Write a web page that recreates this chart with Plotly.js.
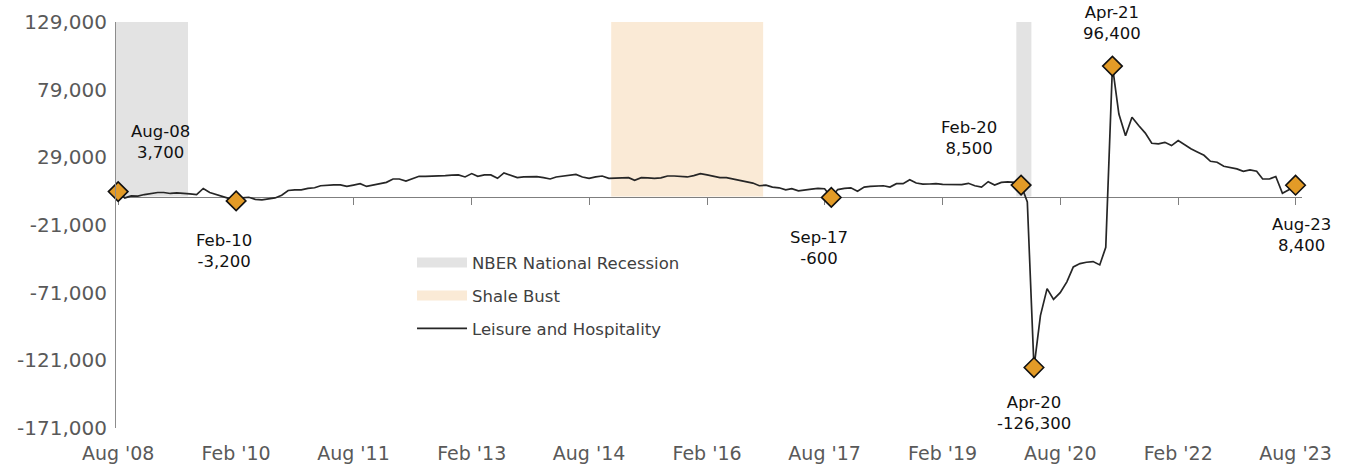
<!DOCTYPE html>
<html><head><meta charset="utf-8">
<script src="https://cdn.plot.ly/plotly-3.0.1.min.js"></script>
<style>html,body{margin:0;padding:0;background:#fff}#chart{width:1353px;height:465px}</style>
</head><body><div id="chart"></div>
<script>
// ---- data ----
const firstMonth = [2008, 8]; // Aug 2008, monthly series
const leisureHospitality = [
  3700, -1000, 500, 300, 1500, 2500, 3000, 3000, 2300, 2800, 2600, 2000,
  1500, 6000, 3000, 1500, 500, -1500, -3200, -1000, -500, -2000, -2500, -2000,
  -1000, 1000, 4500, 5000, 5000, 6000, 6500, 8000, 8500, 8700, 8700, 7500,
  8500, 9500, 7500, 8500, 9000, 10500, 13000, 13000, 11500, 13000, 15000, 15000,
  15000, 15300, 15500, 15800, 16000, 14500, 17000, 15000, 16000, 16000, 13500, 17500,
  16000, 14000, 14500, 14500, 14800, 14000, 13000, 14500, 15200, 16000, 16400, 14500,
  13400, 14500, 15200, 13500, 13500, 13600, 14000, 12000, 14000, 13800, 13500, 13800,
  15200, 15200, 15000, 14500, 15500, 16900, 16000, 14800, 14000, 14000, 13000, 12000,
  11500, 10000, 8000, 8500, 7000, 6500, 5000, 5800, 4200, 5000, 5500, 6000,
  5800, -600, 5200, 6000, 6500, 4000, 7000, 7500, 8000, 8000, 7000, 9500,
  9500, 12500, 10000, 9200, 9300, 9500, 9000, 8800, 8800, 8800, 9800, 8000,
  7000, 11000, 8500, 10500, 10800, 10500, 8500, -4000, -126300, -88000, -68000, -76000,
  -71000, -63000, -52000, -49500, -48500, -48000, -50500, -37500, 96400, 61000, 45000, 58600,
  52500, 46900, 39400, 39000, 40100, 37700, 41400, 38400, 35300, 33000, 30500, 26100,
  25400, 22400, 21500, 20500, 18700, 19700, 18700, 13000, 13000, 14800, 2500, 5000,
  8400
];
const highlightDates  = ['2008-08-01','2010-02-01','2017-09-01','2020-02-01','2020-04-01','2021-04-01','2023-08-01'];
const highlightValues = [3700, -3200, -600, 8500, -126300, 96400, 8400];
const highlightLabels = ['Aug-08','Feb-10','Sep-17','Feb-20','Apr-20','Apr-21','Aug-23'];

const nberStarts  = ['2007-12-01','2020-01-10'];
const nberEnds    = ['2009-06-22','2020-03-20'];
const shaleStarts = ['2014-11-12'];
const shaleEnds   = ['2016-10-19'];
const shadeTop = 129000;

const xTickDates = ['2008-08-01','2010-02-01','2011-08-01','2013-02-01','2014-08-01','2016-02-01','2017-08-01','2019-02-01','2020-08-01','2022-02-01','2023-08-01'];
const xTickText  = ["Aug '08","Feb '10","Aug '11","Feb '13","Aug '14","Feb '16","Aug '17","Feb '19","Aug '20","Feb '22","Aug '23"];
const yTickVals  = [-171000,-121000,-71000,-21000,29000,79000,129000];
const yTickText  = ['-171,000','-121,000','-71,000','-21,000','29,000','79,000','129,000'];

// ---- build ----
const months = leisureHospitality.map((_, i) => {
  const t = (firstMonth[0] * 12 + firstMonth[1] - 1) + i;
  const y = Math.floor(t / 12), m = t % 12 + 1;
  return y + '-' + String(m).padStart(2, '0') + '-01';
});
function shadeXY(starts, ends) {
  const x = [], y = [];
  starts.forEach((s, i) => {
    x.push(s, s, ends[i], ends[i], null);
    y.push(0, shadeTop, shadeTop, 0, null);
  });
  return {x, y};
}
const nber = shadeXY(nberStarts, nberEnds);
const shale = shadeXY(shaleStarts, shaleEnds);
const FONT = 'DejaVu Sans, sans-serif';
const NBER_COL = '#E3E3E3', SHALE_COL = '#FAEAD6';

const traces = [
  {x: nber.x, y: nber.y, xaxis: 'x', yaxis: 'y', mode: 'lines', fill: 'toself', fillcolor: NBER_COL,
   line: {width: 0, color: NBER_COL}, showlegend: false, hoverinfo: 'skip'},
  {x: shale.x, y: shale.y, xaxis: 'x', yaxis: 'y', mode: 'lines', fill: 'toself', fillcolor: SHALE_COL,
   line: {width: 0, color: SHALE_COL}, showlegend: false, hoverinfo: 'skip'},
  {x: [null], y: [null], xaxis: 'x', yaxis: 'y', mode: 'lines', name: 'NBER National Recession',
   line: {color: NBER_COL, width: 14}, legendgroup: 'a'},
  {x: [null], y: [null], xaxis: 'x', yaxis: 'y', mode: 'lines', name: 'Shale Bust',
   line: {color: SHALE_COL, width: 14}, legendgroup: 'b'},
  {x: months, y: leisureHospitality, xaxis: 'x2', yaxis: 'y', mode: 'lines', name: 'Leisure and Hospitality',
   line: {color: '#262626', width: 1.7}, legendgroup: 'c'},
  {x: highlightDates, y: highlightValues, xaxis: 'x2', yaxis: 'y', mode: 'markers', showlegend: false,
   cliponaxis: false,
   marker: {symbol: 'diamond', size: 15, color: '#E39B27', line: {color: '#111', width: 1.6}}}
];

const xShift = [42, -12, -12, -52, 0, 0, 6];
const yShift = [50, -50, -51, 47, -45, 43, -50];
const annotations = highlightDates.map((d, i) => ({
  x: d, y: highlightValues[i], xref: 'x', yref: 'y', showarrow: false,
  text: highlightLabels[i] + '<br>' + highlightValues[i].toLocaleString('en-US'),
  xshift: xShift[i], yshift: yShift[i],
  font: {family: FONT, size: 16.5, color: '#111'}
}));

const xRange = ['2008-07-22', '2023-08-31'];
const layout = {
  width: 1353, height: 465,
  margin: {l: 116, r: 51, t: 22, b: 37},
  paper_bgcolor: '#fff', plot_bgcolor: '#fff',
  showlegend: true,
  legend: {x: 0.2496, y: 0.45, xanchor: 'left', yanchor: 'top', bgcolor: 'rgba(0,0,0,0)',
           font: {family: FONT, size: 16.5, color: '#404040'}, itemwidth: 50, tracegroupgap: 8.5,
           traceorder: 'grouped'},
  xaxis: {type: 'date', range: xRange, tickvals: xTickDates, ticktext: xTickText,
          showline: false, showgrid: false, zeroline: false, ticks: '', ticklabelstandoff: 12,
          tickfont: {family: FONT, size: 19, color: '#595959'}},
  xaxis2: {type: 'date', range: xRange, overlaying: 'x', anchor: 'free', position: 171000 / 300000,
           tickvals: xTickDates, showticklabels: false, showgrid: false, zeroline: false,
           showline: true, linecolor: '#7f7f7f', linewidth: 1, ticks: 'outside', ticklen: 7,
           tickcolor: '#7f7f7f', layer: 'below traces'},
  yaxis: {range: [-171000, 129000], tickvals: yTickVals, ticktext: yTickText,
          showgrid: false, zeroline: false, showline: true, linecolor: '#8c8c8c', linewidth: 1,
          ticks: '', ticklabelstandoff: 4,
          tickfont: {family: FONT, size: 20, color: '#595959'}},
  annotations: annotations
};
Plotly.newPlot('chart', traces, layout, {displayModeBar: false, staticPlot: true});
</script></body></html>
